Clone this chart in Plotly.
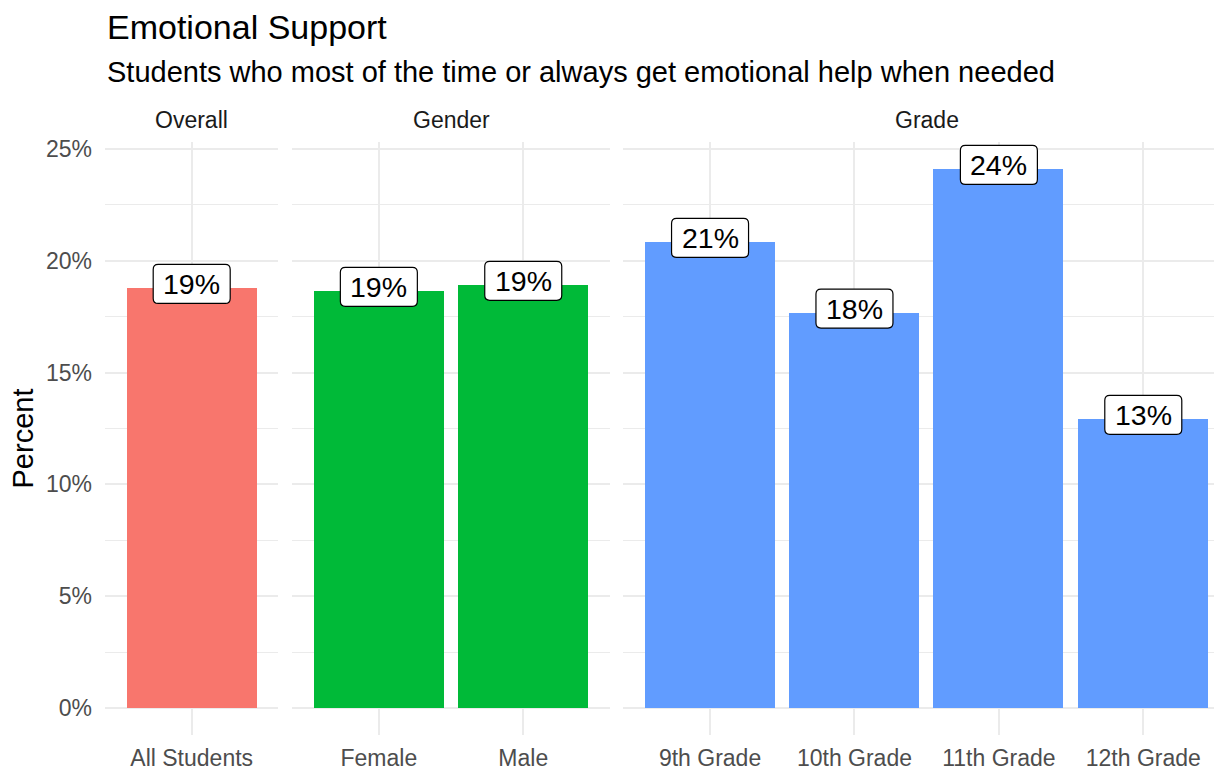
import plotly.graph_objects as go

# ---- data ----
facets = ["Overall", "Gender", "Grade"]
overall_cats = ["All Students"]
overall_vals = [18.78]
gender_cats = ["Female", "Male"]
gender_vals = [18.65, 18.92]
grade_cats = ["9th Grade", "10th Grade", "11th Grade", "12th Grade"]
grade_vals = [20.84, 17.68, 24.10, 12.93]
y_ticks = [0, 5, 10, 15, 20, 25]
y_tick_text = ["0%", "5%", "10%", "15%", "20%", "25%"]
y_minor = [2.5, 7.5, 12.5, 17.5, 22.5]

title = "Emotional Support"
subtitle = "Students who most of the time or always get emotional help when needed"

colors = ["#F8766D", "#00BA38", "#619CFF"]

FONT = "Liberation Sans, Arial, sans-serif"
GRID = "#EBEBEB"

OFF = 8  # page body margin
W, H = 1222 - OFF, 772 - OFF
ML, MR, MT, MB = 105 - OFF, 0, 142 - OFF, 37
PW = W - ML - MR

# panel pixel extents in page coords (left, right)
panel_px = [(105, 278.4), (292.2, 609.9), (623.4, 1222)]
domains = [[(a - OFF - ML) / PW, min(1.0, (b - OFF - ML) / PW)] for a, b in panel_px]
x_ranges = [[0.4, 1.6], [0.4, 2.6], [0.4, 4.545]]
y_range = [-1.205, 25.305]

groups = [(overall_cats, overall_vals), (gender_cats, gender_vals), (grade_cats, grade_vals)]


def rounded_box(w, h, r, cy):
    x0, x1 = -w / 2, w / 2
    y0, y1 = cy - h / 2, cy + h / 2
    return (f"M {x0 + r},{y0} L {x1 - r},{y0} Q {x1},{y0} {x1},{y0 + r} "
            f"L {x1},{y1 - r} Q {x1},{y1} {x1 - r},{y1} L {x0 + r},{y1} "
            f"Q {x0},{y1} {x0},{y1 - r} L {x0},{y0 + r} Q {x0},{y0} {x0 + r},{y0} Z")


fig = go.Figure()
annotations = []
shapes = []
for i, (cats, vals) in enumerate(groups):
    sfx = "" if i == 0 else str(i + 1)
    xs = list(range(1, len(cats) + 1))
    fig.add_trace(go.Bar(
        x=xs, y=vals, width=0.9, marker=dict(color=colors[i], line=dict(width=0)),
        xaxis="x" + sfx, yaxis="y" + sfx, showlegend=False, hoverinfo="skip",
    ))
    xa = dict(
        domain=domains[i], range=x_ranges[i], tickvals=xs, ticktext=cats,
        showgrid=True, gridcolor=GRID, gridwidth=2, zeroline=False, showline=False,
        ticks="", tickfont=dict(family=FONT, size=23, color="#4D4D4D"),
        ticklabelstandoff=7, anchor="y" + sfx, fixedrange=True,
    )
    ya = dict(
        range=y_range, tickvals=y_ticks, ticktext=y_tick_text,
        showgrid=True, gridcolor=GRID, gridwidth=2, zeroline=False, showline=False,
        ticks="", tickfont=dict(family=FONT, size=23, color="#4D4D4D"),
        minor=dict(tickvals=y_minor, showgrid=True, gridcolor=GRID, gridwidth=1),
        anchor="x" + sfx, showticklabels=(i == 0), ticklabelstandoff=12, fixedrange=True,
    )
    fig.update_layout(**{"xaxis" + sfx: xa, "yaxis" + sfx: ya})
    # strip label
    annotations.append(dict(
        text=facets[i], xref="paper", yref="paper",
        x=(domains[i][0] + domains[i][1]) / 2 if i < 2 else
        ((panel_px[2][0] - OFF - ML) / PW + (2.1 * 144.4) / PW),
        y=1, yshift=22,
        xanchor="center", yanchor="middle", showarrow=False,
        font=dict(family=FONT, size=23, color="#1A1A1A"),
    ))
    # value labels with rounded boxes
    for x, v in zip(xs, vals):
        shapes.append(dict(
            type="path", xref="x" + sfx, yref="y" + sfx,
            xsizemode="pixel", ysizemode="pixel", xanchor=x, yanchor=v,
            path=rounded_box(77, 39, 5, 4),
            fillcolor="white", line=dict(color="black", width=1.2), layer="above",
        ))
        annotations.append(dict(
            text=f"{round(v)}%", x=x, y=v, xref="x" + sfx, yref="y" + sfx,
            xanchor="center", yanchor="middle", showarrow=False, yshift=4,
            font=dict(family=FONT, size=28.5, color="black"),
        ))

# title, subtitle, y-axis title
annotations.append(dict(text=title, xref="paper", yref="paper", x=0, y=1,
                        xanchor="left", yanchor="middle", yshift=MT - 19, showarrow=False,
                        font=dict(family=FONT, size=34, color="black")))
annotations.append(dict(text=subtitle, xref="paper", yref="paper", x=0, y=1,
                        xanchor="left", yanchor="middle", yshift=MT - 64, showarrow=False,
                        font=dict(family=FONT, size=29, color="black")))
annotations.append(dict(text="Percent", xref="paper", yref="paper", x=0, y=0.5,
                        xanchor="center", yanchor="middle", xshift=-(ML - 14), textangle=-90,
                        showarrow=False, font=dict(family=FONT, size=29, color="black")))

fig.update_layout(
    width=W, height=H, margin=dict(l=ML, r=MR, t=MT, b=MB, autoexpand=False),
    paper_bgcolor="white", plot_bgcolor="white",
    annotations=annotations, shapes=shapes, bargap=0,
)
fig.write_html("out.html")
